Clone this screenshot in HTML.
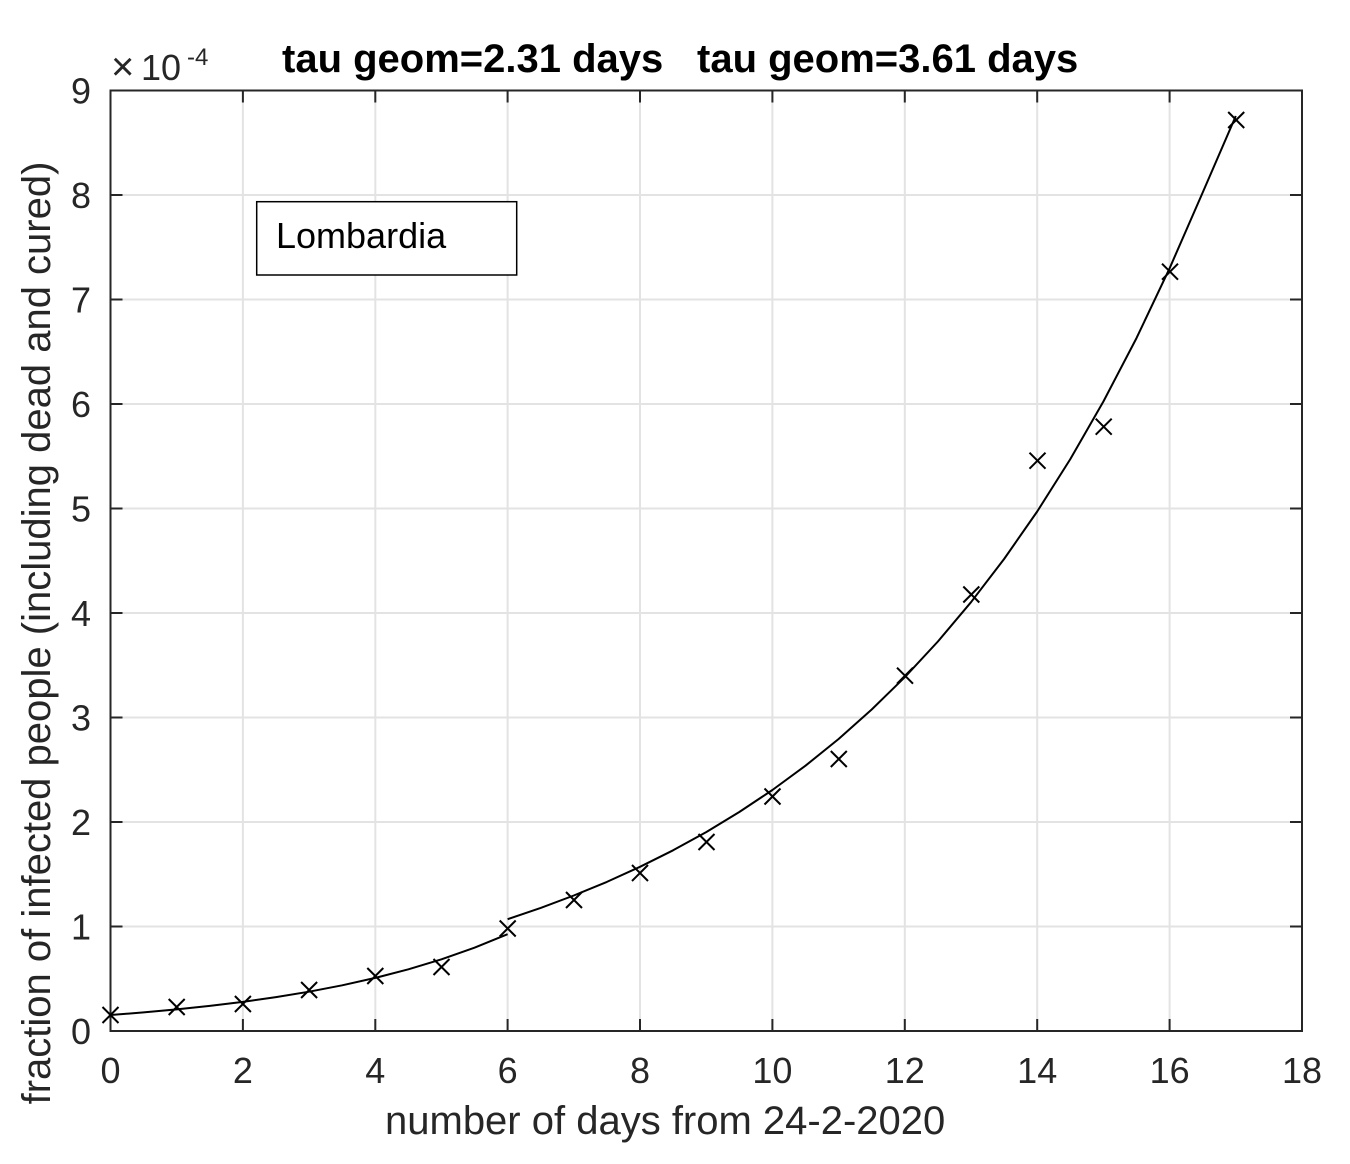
<!DOCTYPE html>
<html>
<head>
<meta charset="utf-8">
<style>
  html, body { margin: 0; padding: 0; background: #ffffff; }
  svg { display: block; }
  text { font-family: "Liberation Sans", Arial, sans-serif; }
</style>
</head>
<body>
<svg width="1350" height="1164" viewBox="0 0 1350 1164" xmlns="http://www.w3.org/2000/svg">
  <rect x="0" y="0" width="1350" height="1164" fill="#ffffff"/>

  <!-- grid -->
  <g stroke="#e3e3e3" stroke-width="2" fill="none">
    <line x1="242.9" y1="90.5" x2="242.9" y2="1031"/>
    <line x1="375.3" y1="90.5" x2="375.3" y2="1031"/>
    <line x1="507.6" y1="90.5" x2="507.6" y2="1031"/>
    <line x1="640.0" y1="90.5" x2="640.0" y2="1031"/>
    <line x1="772.4" y1="90.5" x2="772.4" y2="1031"/>
    <line x1="904.8" y1="90.5" x2="904.8" y2="1031"/>
    <line x1="1037.2" y1="90.5" x2="1037.2" y2="1031"/>
    <line x1="1169.6" y1="90.5" x2="1169.6" y2="1031"/>
    <line x1="110.5" y1="926.5" x2="1302" y2="926.5"/>
    <line x1="110.5" y1="822" x2="1302" y2="822"/>
    <line x1="110.5" y1="717.5" x2="1302" y2="717.5"/>
    <line x1="110.5" y1="613" x2="1302" y2="613"/>
    <line x1="110.5" y1="508.5" x2="1302" y2="508.5"/>
    <line x1="110.5" y1="404" x2="1302" y2="404"/>
    <line x1="110.5" y1="299.5" x2="1302" y2="299.5"/>
    <line x1="110.5" y1="195" x2="1302" y2="195"/>
  </g>

  <!-- ticks (inward, all sides) -->
  <g stroke="#262626" stroke-width="2" fill="none">
    <line x1="242.9" y1="1031" x2="242.9" y2="1019"/>
    <line x1="375.3" y1="1031" x2="375.3" y2="1019"/>
    <line x1="507.6" y1="1031" x2="507.6" y2="1019"/>
    <line x1="640.0" y1="1031" x2="640.0" y2="1019"/>
    <line x1="772.4" y1="1031" x2="772.4" y2="1019"/>
    <line x1="904.8" y1="1031" x2="904.8" y2="1019"/>
    <line x1="1037.2" y1="1031" x2="1037.2" y2="1019"/>
    <line x1="1169.6" y1="1031" x2="1169.6" y2="1019"/>
    <line x1="242.9" y1="90.5" x2="242.9" y2="102.5"/>
    <line x1="375.3" y1="90.5" x2="375.3" y2="102.5"/>
    <line x1="507.6" y1="90.5" x2="507.6" y2="102.5"/>
    <line x1="640.0" y1="90.5" x2="640.0" y2="102.5"/>
    <line x1="772.4" y1="90.5" x2="772.4" y2="102.5"/>
    <line x1="904.8" y1="90.5" x2="904.8" y2="102.5"/>
    <line x1="1037.2" y1="90.5" x2="1037.2" y2="102.5"/>
    <line x1="1169.6" y1="90.5" x2="1169.6" y2="102.5"/>
    <line x1="110.5" y1="926.5" x2="122.5" y2="926.5"/>
    <line x1="110.5" y1="822" x2="122.5" y2="822"/>
    <line x1="110.5" y1="717.5" x2="122.5" y2="717.5"/>
    <line x1="110.5" y1="613" x2="122.5" y2="613"/>
    <line x1="110.5" y1="508.5" x2="122.5" y2="508.5"/>
    <line x1="110.5" y1="404" x2="122.5" y2="404"/>
    <line x1="110.5" y1="299.5" x2="122.5" y2="299.5"/>
    <line x1="110.5" y1="195" x2="122.5" y2="195"/>
    <line x1="1302" y1="926.5" x2="1290" y2="926.5"/>
    <line x1="1302" y1="822" x2="1290" y2="822"/>
    <line x1="1302" y1="717.5" x2="1290" y2="717.5"/>
    <line x1="1302" y1="613" x2="1290" y2="613"/>
    <line x1="1302" y1="508.5" x2="1290" y2="508.5"/>
    <line x1="1302" y1="404" x2="1290" y2="404"/>
    <line x1="1302" y1="299.5" x2="1290" y2="299.5"/>
    <line x1="1302" y1="195" x2="1290" y2="195"/>
    <rect x="110.5" y="90.5" width="1191.5" height="940.5"/>
  </g>

  <!-- fit curves -->
  <g stroke="#000000" stroke-width="2" fill="none" stroke-linejoin="round">
    <polyline points="110.5,1015.0 143.6,1012.4 176.7,1009.4 209.8,1005.9 242.9,1001.9 276.0,997.1 309.1,991.7 342.2,985.3 375.3,977.9 408.4,969.3 441.5,959.3 474.5,947.7 507.6,934.2"/>
    <polyline points="507.6,919.2 540.7,907.9 573.8,895.5 606.9,881.9 640.0,866.8 673.1,850.3 706.2,832.1 739.3,812.0 772.4,790.0 805.5,765.7 838.6,739.0 871.7,709.5 904.8,677.2 937.9,641.5 971.0,602.2 1004.1,559.0 1037.2,511.5 1070.3,459.1 1103.4,401.5 1136.5,338.1 1169.6,268.3 1202.7,192.5 1235.8,116"/>
  </g>

  <!-- data markers (x) -->
  <g stroke="#000000" stroke-width="2" fill="none">
    <path d="M102.5,1007 l16,16 M102.5,1023 l16,-16"/>
    <path d="M168.7,999 l16,16 M168.7,1015 l16,-16"/>
    <path d="M234.9,996 l16,16 M234.9,1012 l16,-16"/>
    <path d="M301.1,982 l16,16 M301.1,998 l16,-16"/>
    <path d="M367.3,968 l16,16 M367.3,984 l16,-16"/>
    <path d="M433.5,959 l16,16 M433.5,975 l16,-16"/>
    <path d="M499.7,920.5 l16,16 M499.7,936.5 l16,-16"/>
    <path d="M566,892 l16,16 M566,908 l16,-16"/>
    <path d="M632,865 l16,16 M632,881 l16,-16"/>
    <path d="M698.5,834 l16,16 M698.5,850 l16,-16"/>
    <path d="M764.5,788.5 l16,16 M764.5,804.5 l16,-16"/>
    <path d="M830.8,751 l16,16 M830.8,767 l16,-16"/>
    <path d="M897,667.7 l16,16 M897,683.7 l16,-16"/>
    <path d="M963.3,586.5 l16,16 M963.3,602.5 l16,-16"/>
    <path d="M1029.5,452.7 l16,16 M1029.5,468.7 l16,-16"/>
    <path d="M1095.7,418.7 l16,16 M1095.7,434.7 l16,-16"/>
    <path d="M1162,263.7 l16,16 M1162,279.7 l16,-16"/>
    <path d="M1228.2,112 l16,16 M1228.2,128 l16,-16"/>
  </g>

  <!-- x tick labels -->
  <g fill="#262626" font-size="36" text-anchor="middle">
    <text x="110.5" y="1083">0</text>
    <text x="242.9" y="1083">2</text>
    <text x="375.3" y="1083">4</text>
    <text x="507.6" y="1083">6</text>
    <text x="640.0" y="1083">8</text>
    <text x="772.4" y="1083">10</text>
    <text x="904.8" y="1083">12</text>
    <text x="1037.2" y="1083">14</text>
    <text x="1169.6" y="1083">16</text>
    <text x="1302" y="1083">18</text>
  </g>

  <!-- y tick labels -->
  <g fill="#262626" font-size="36" text-anchor="end">
    <text x="91" y="1044">0</text>
    <text x="91" y="939.5">1</text>
    <text x="91" y="835">2</text>
    <text x="91" y="730.5">3</text>
    <text x="91" y="626">4</text>
    <text x="91" y="521.5">5</text>
    <text x="91" y="417">6</text>
    <text x="91" y="312.5">7</text>
    <text x="91" y="208">8</text>
    <text x="91" y="103.5">9</text>
  </g>

  <!-- exponent -->
  <text x="111" y="80" fill="#262626" font-size="40">×</text>
  <text x="141" y="80" fill="#262626" font-size="36">10</text>
  <text x="187" y="65" fill="#262626" font-size="24">-4</text>

  <!-- title -->
  <g fill="#000000" font-size="40" font-weight="bold">
    <text x="282" y="72">tau geom=2.31 days</text>
    <text x="697" y="72">tau geom=3.61 days</text>
  </g>

  <!-- axis labels -->
  <text x="385" y="1134" fill="#262626" font-size="40">number of days from 24-2-2020</text>
  <text transform="translate(50,633) rotate(-90)" text-anchor="middle" fill="#262626" font-size="40">fraction of infected people (including dead and cured)</text>

  <!-- annotation box -->
  <rect x="256.7" y="201.7" width="260" height="73.3" fill="#ffffff" stroke="#000000" stroke-width="1.5"/>
  <text x="276" y="248" fill="#000000" font-size="36">Lombardia</text>
</svg>
</body>
</html>
